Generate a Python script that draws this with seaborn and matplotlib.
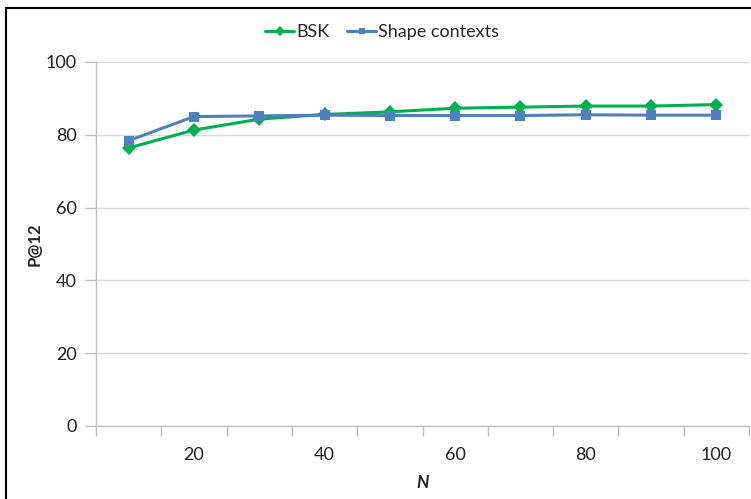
import matplotlib
matplotlib.use("Agg")
import matplotlib.pyplot as plt
import seaborn as sns
import pandas as pd
from matplotlib.lines import Line2D
from matplotlib.ticker import FixedLocator

# Data
n_values = [10, 20, 30, 40, 50, 60, 70, 80, 90, 100]
bsk = [76.4, 81.3, 84.3, 85.6, 86.3, 87.3, 87.6, 87.9, 87.9, 88.3]
shape_contexts = [78.4, 85.0, 85.2, 85.4, 85.3, 85.3, 85.3, 85.5, 85.4, 85.4]
series_names = ["BSK", "Shape contexts"]
x_labels = [20, 40, 60, 80, 100]
y_ticks = [0, 20, 40, 60, 80, 100]

df = pd.DataFrame({
    "N": n_values * 2,
    "P@12": bsk + shape_contexts,
    "method": [series_names[0]] * len(n_values) + [series_names[1]] * len(n_values),
})

sns.set_theme(style="white")
plt.rcParams["font.family"] = ["Lato", "DejaVu Sans"]

fig = plt.figure(figsize=(7.51, 4.99), dpi=100)
ax = fig.add_axes([96 / 751, 73 / 499, 653 / 751, 364 / 499])

palette = {"BSK": "#00B050", "Shape contexts": "#4F81BD"}
markers = {"BSK": "D", "Shape contexts": "s"}
sns.lineplot(
    data=df, x="N", y="P@12", hue="method", style="method",
    palette=palette, markers=markers, dashes=False,
    linewidth=2.2, markersize=7, markeredgewidth=0, ax=ax,
)

ax.set_xlim(5, 105)
ax.set_ylim(0, 100)
ax.set_yticks(y_ticks)
ax.set_xticks(x_labels)
ax.set_xticklabels([str(v) for v in x_labels])
ax.xaxis.set_minor_locator(FixedLocator([v - 5 for v in n_values] + [105]))
ax.tick_params(axis="x", which="major", length=0, pad=15, labelsize=13)
ax.tick_params(axis="x", which="minor", length=7, width=1, color="#BFBFBF", direction="out", bottom=True)
ax.tick_params(axis="y", which="major", length=8, width=1, color="#BFBFBF", pad=6,
               labelsize=13, left=True)
for lbl in ax.get_yticklabels() + ax.get_xticklabels():
    lbl.set_color("#222222")

ax.grid(axis="y", color="#D9D9D9", linewidth=1)
for side in ["top", "right"]:
    ax.spines[side].set_visible(False)
for side in ["left", "bottom"]:
    ax.spines[side].set_color("#BFBFBF")
    ax.spines[side].set_linewidth(1)

ax.set_xlabel("N", fontsize=12.5, fontweight="bold", style="italic", labelpad=9)
ax.set_ylabel("P@12", fontsize=12, fontweight="bold", labelpad=2)

handles, labels = ax.get_legend_handles_labels()
ax.legend(handles, labels, loc="center", bbox_to_anchor=(0.438, 1.082), ncol=2,
          frameon=False, fontsize=13, handlelength=1.6, handletextpad=0.1,
          columnspacing=1.0, markerscale=0.7)

# outer chart border (left and top visible in the crop)
fig.add_artist(Line2D([6 / 751, 6 / 751], [0, 1 - 8 / 499], transform=fig.transFigure,
                      color="black", linewidth=1.5))
fig.add_artist(Line2D([6 / 751, 1], [1 - 8 / 499, 1 - 8 / 499], transform=fig.transFigure,
                      color="black", linewidth=1.5))

fig.savefig("out.png", dpi=100)
